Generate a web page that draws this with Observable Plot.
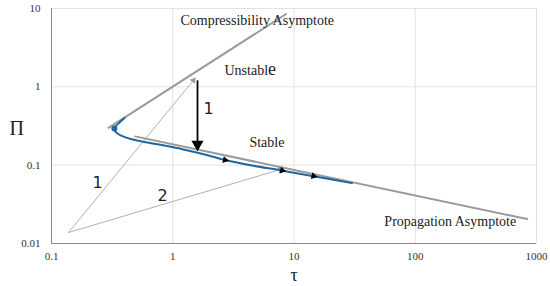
<!DOCTYPE html>
<html>
<head>
<meta charset="utf-8">
<script src="https://cdn.jsdelivr.net/npm/d3@7"></script>
<script src="https://cdn.jsdelivr.net/npm/@observablehq/plot@0.6"></script>
<style>
  html, body { margin: 0; padding: 0; background: #fff; }
  #chart svg { display: block; }
</style>
</head>
<body>
<div id="chart"></div>
<script>
// Tick values
const xTicks = [0.1, 1, 10, 100, 1000];
const yTicks = [0.01, 0.1, 1, 10];

// Solution curve (τ, Π)
const curveTau = [0.40, 0.36, 0.34, 0.33, 0.335, 0.35, 0.38, 0.45, 0.60, 0.85, 1.2, 1.8, 2.7, 4.5, 7.7, 13, 20, 30];
const curvePi  = [0.40, 0.345, 0.315, 0.294, 0.272, 0.254, 0.236, 0.216, 0.196, 0.178, 0.160, 0.138, 0.1165, 0.099, 0.0862, 0.0745, 0.066, 0.059];

// Asymptotes (endpoints)
const compTau = [0.295, 8.6];
const compPi  = [0.30, 8.5];
const propTau = [0.49, 840];
const propPi  = [0.233, 0.0205];

// Turning point
const turnTau = [0.33];
const turnPi  = [0.294];

// Direction arrowheads on the curve
const headTau = [2.7, 8.0, 14.5];
const headPi  = [0.1165, 0.0855, 0.0725];

// Thin guide lines (from common origin)
const guideFrom = {tau: 0.138, pi: 0.0138};
const guideToTau = [1.48, 7.7];
const guideToPi  = [1.21, 0.088];
const guideAngle = [39, 73];

// Vertical jump arrow
const jumpTau = [1.6];
const jumpFromPi = [1.21];
const jumpToPi = [0.19];

// Labels
const labelText = ["Compressibility Asymptote", "Unstable", "Stable", "Propagation Asymptote"];
const labelTau  = [1.157, 2.67, 4.29, 55.6];
const labelPi   = [7.05, 1.62, 0.195, 0.0191];

const numText = ["1", "1", "2"];
const numTau  = [1.79, 0.218, 0.748];
const numPi   = [0.53, 0.060, 0.041];

const curve = curveTau.map((t, i) => ({t, p: curvePi[i]}));
const comp = compTau.map((t, i) => ({t, p: compPi[i]}));
const prop = propTau.map((t, i) => ({t, p: propPi[i]}));
const heads = headTau.map((t, i) => ({t, p: headPi[i]}));
const guides = guideToTau.map((t, i) => ({t1: guideFrom.tau, p1: guideFrom.pi, t2: t, p2: guideToPi[i], a: guideAngle[i]}));
const labels = labelText.map((s, i) => ({s, t: labelTau[i], p: labelPi[i]}));
const nums = numText.map((s, i) => ({s, t: numTau[i], p: numPi[i]}));

const serif = "'Liberation Serif', 'Times New Roman', serif";

const chart = Plot.plot({
  width: 550,
  height: 286,
  marginLeft: 51,
  marginRight: 14,
  marginTop: 8,
  marginBottom: 43,
  style: {fontFamily: serif, fontSize: "11px", background: "#fff", color: "#222"},
  x: {type: "log", domain: [0.1, 1000]},
  y: {type: "log", domain: [0.01, 10]},
  marks: [
    Plot.ruleX(xTicks.slice(1), {stroke: "#e2e2e2", strokeWidth: 1}),
    Plot.ruleY(yTicks.slice(1), {stroke: "#e2e2e2", strokeWidth: 1}),
    Plot.ruleX([0.1], {stroke: "#8a8a8a", strokeWidth: 1}),
    Plot.ruleY([0.01], {stroke: "#8a8a8a", strokeWidth: 1}),
    Plot.axisX({ticks: xTicks, tickFormat: d => String(d), tickSize: 0, tickPadding: 9, label: null, fontFamily: serif, fontSize: 11, fill: "#333"}),
    Plot.axisY({ticks: yTicks, tickFormat: d => String(d), tickSize: 0, tickPadding: 11, label: null, fontFamily: serif, fontSize: 11, fill: "#333"}),
    // guides
    Plot.link(guides, {x1: "t1", y1: "p1", x2: "t2", y2: "p2", stroke: "#a8a8a8", strokeWidth: 0.9}),
    Plot.dot(guides, {x: "t2", y: "p2", symbol: "triangle", r: 2.4, fill: "#9a9a9a", stroke: "none", rotate: "a"}),
    // asymptotes
    Plot.line(comp, {x: "t", y: "p", stroke: "#9a9a9a", strokeWidth: 2}),
    Plot.line(prop, {x: "t", y: "p", stroke: "#9a9a9a", strokeWidth: 2}),
    // curve
    Plot.line(curve, {x: "t", y: "p", stroke: "#1f67a3", strokeWidth: 2, curve: "catmull-rom"}),
    Plot.dot(turnTau.map((t, i) => ({t, p: turnPi[i]})), {x: "t", y: "p", r: 3, fill: "#1f67a3"}),
    Plot.dot(heads, {x: "t", y: "p", symbol: "triangle", r: 2.6, fill: "#000", stroke: "none", rotate: 102}),
    // jump arrow
    Plot.link(jumpTau.map((t, i) => ({t, p1: jumpFromPi[i], p2: jumpToPi[i]})), {x: "t", y1: "p1", y2: "p2", stroke: "#000", strokeWidth: 1.8}),
    Plot.dot(jumpTau.map((t, i) => ({t, p: jumpToPi[i]})), {x: "t", y: "p", symbol: "triangle", r: 4.5, fill: "#000", stroke: "none", rotate: 180, dy: 1}),
    // text
    Plot.text(labels, {x: "t", y: "p", text: "s", textAnchor: "start", fontSize: 14, fill: "#222", fontFamily: serif}),
    Plot.text(nums, {x: "t", y: "p", text: "s", textAnchor: "start", fontSize: 16, fill: "#222", fontFamily: "'DejaVu Sans', sans-serif"}),
    Plot.text(["Π"], {frameAnchor: "left", dx: -42, dy: 3, fontSize: 20, fill: "#222", fontFamily: serif}),
    Plot.text(["τ"], {frameAnchor: "bottom", dy: 37, fontSize: 18, fill: "#222", fontFamily: serif})
  ]
});

document.getElementById("chart").appendChild(chart);

// Larger final "e" in "Unstable", as in the reference
d3.select(chart).selectAll("text").each(function() {
  const el = d3.select(this);
  if (el.text() === "Unstable") {
    el.text("Unstabl");
    el.append("tspan").attr("font-size", 18).text("e");
  }
});
</script>
</body>
</html>
